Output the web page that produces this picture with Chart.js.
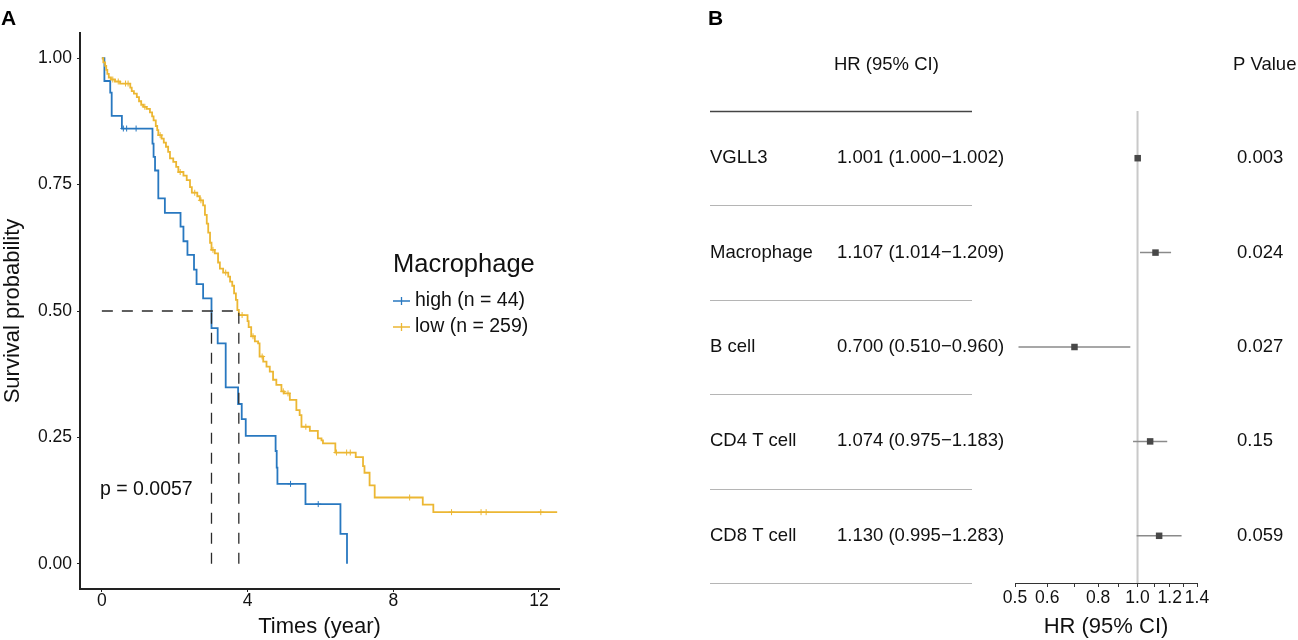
<!DOCTYPE html>
<html>
<head>
<meta charset="utf-8">
<script src="https://cdn.jsdelivr.net/npm/chart.js@4.4.1/dist/chart.umd.min.js"></script>
<style>
  html, body { margin: 0; padding: 0; background: #fff; }
  #wrap { position: relative; width: 1298px; height: 640px; overflow: hidden; }
  canvas { position: absolute; top: 0; }
  #km { left: 0; }
  #forest { left: 700px; }
  .panel { position: absolute; top: 7px; font: bold 21px "Liberation Sans", Arial, sans-serif; line-height: 1; color: #000; }
</style>
</head>
<body>
<div id="wrap">
  <canvas id="km" width="600" height="640"></canvas>
  <canvas id="forest" width="598" height="640"></canvas>
  <div class="panel" style="left:1px">A</div>
  <div class="panel" style="left:708px">B</div>
</div>
<script>
// Panel A: Kaplan-Meier, time (year) and survival after each event
const highTime = [0, 0.07, 0.23, 0.27, 0.55, 1.39, 1.42, 1.46, 1.55, 1.73, 2.16, 2.24, 2.35, 2.53, 2.60,
    2.78, 3.01, 3.18, 3.40, 3.74, 3.84, 3.95, 4.77, 4.80, 4.82, 5.59, 6.55, 6.73];
const highSurv = [1, 0.955, 0.932, 0.886, 0.861, 0.831, 0.805, 0.778, 0.723, 0.694, 0.667, 0.638, 0.611, 0.582, 0.553,
    0.525, 0.466, 0.436, 0.349, 0.316, 0.286, 0.253, 0.223, 0.190, 0.158, 0.118, 0.059, 0];
const highCensor = [0.59, 0.68, 0.94, 5.18, 5.94];

const lowTime = [0, 0.04, 0.09, 0.12, 0.15, 0.19, 0.25, 0.36, 0.50, 0.78,
    0.82, 0.88, 0.96, 1.02, 1.08, 1.14, 1.23, 1.32, 1.38, 1.42,
    1.48, 1.52, 1.55, 1.64, 1.70, 1.76, 1.82, 1.87, 1.96, 2.04,
    2.10, 2.24, 2.33, 2.42, 2.47, 2.62, 2.69, 2.78, 2.83, 2.88,
    2.92, 2.97, 3.01, 3.10, 3.19, 3.24, 3.33, 3.47, 3.52, 3.58,
    3.63, 3.68, 3.72, 3.76, 4.00, 4.03, 4.10, 4.20, 4.29, 4.33,
    4.43, 4.52, 4.61, 4.70, 4.79, 4.93, 5.00, 5.16, 5.34, 5.43,
    5.48, 5.71, 5.93, 6.03, 6.07, 6.41, 6.97, 7.17, 7.21, 7.35,
    7.49, 8.81, 9.10, 12.50];
const lowSurv = [1, 0.992, 0.985, 0.977, 0.969, 0.962, 0.958, 0.954, 0.950, 0.942,
    0.935, 0.930, 0.923, 0.915, 0.908, 0.904, 0.900, 0.893, 0.885, 0.877,
    0.866, 0.858, 0.848, 0.841, 0.833, 0.825, 0.815, 0.802, 0.795, 0.785,
    0.775, 0.768, 0.759, 0.745, 0.734, 0.727, 0.719, 0.709, 0.690, 0.673,
    0.655, 0.635, 0.621, 0.614, 0.596, 0.584, 0.576, 0.568, 0.558, 0.550,
    0.535, 0.522, 0.502, 0.492, 0.480, 0.468, 0.450, 0.440, 0.436, 0.410,
    0.400, 0.390, 0.380, 0.364, 0.354, 0.341, 0.337, 0.324, 0.304, 0.294,
    0.271, 0.263, 0.248, 0.244, 0.238, 0.220, 0.211, 0.193, 0.180, 0.155,
    0.131, 0.117, 0.102, 0.102];
const lowCensor = [0.30, 0.45, 0.65, 0.72, 1.18, 1.60, 2.15, 2.55, 2.72, 3.05, 3.40, 3.85, 4.15, 4.40,
    4.98, 5.11, 5.60, 6.44, 6.72, 6.82, 8.45, 9.60, 10.41, 10.55, 12.05];

const medianTimes = [3.01, 3.76];
const groupLabels = ['high (n = 44)', 'low (n = 259)'];
const groupColors = ['#2878c0', '#ecb733'];
const legendTitle = 'Macrophage';
const pText = 'p = 0.0057';
const timeTicks = [0, 4, 8, 12];
const survTicks = [0, 0.25, 0.5, 0.75, 1];

// Panel B: forest plot
const rowNames = ['VGLL3', 'Macrophage', 'B cell', 'CD4 T cell', 'CD8 T cell'];
const hr = [1.001, 1.107, 0.700, 1.074, 1.130];
const ciLow = [1.000, 1.014, 0.510, 0.975, 0.995];
const ciHigh = [1.002, 1.209, 0.960, 1.183, 1.283];
const pValues = ['0.003', '0.024', '0.027', '0.15', '0.059'];
const hrTicks = [0.5, 0.6, 0.7, 0.8, 0.9, 1.0, 1.1, 1.2, 1.3, 1.4];
const hrTickLabels = [0.5, 0.6, 0.8, 1.0, 1.2, 1.4];

const FONT = '"Liberation Sans", Arial, sans-serif';
Chart.defaults.font.family = FONT;
Chart.defaults.color = '#111';

function survAt(times, surv, t) {
    let s = surv[0];
    times.forEach((tt, i) => { if (tt <= t) s = surv[i]; });
    return s;
}
const toPoints = (xs, ys) => xs.map((x, i) => ({ x: x, y: ys[i] }));

// Legend + p value
const kmLegend = {
    id: 'kmLegend',
    afterDraw(chart) {
        const ctx = chart.ctx;
        ctx.save();
        ctx.fillStyle = '#111';
        ctx.textBaseline = 'middle';
        ctx.font = '25.5px ' + FONT;
        ctx.fillText(legendTitle, 393, 265);
        ctx.font = '19.5px ' + FONT;
        groupLabels.forEach((label, i) => {
            const py = 301 + i * 26;
            ctx.strokeStyle = groupColors[i];
            ctx.lineWidth = 1.3;
            ctx.beginPath();
            ctx.moveTo(393, py); ctx.lineTo(410, py);
            ctx.moveTo(401.5, py - 4); ctx.lineTo(401.5, py + 4);
            ctx.stroke();
            ctx.fillText(label, 415, py);
        });
        ctx.fillText(pText, 100, 490);
        ctx.restore();
    }
};

const dashed = {
    showLine: true, borderColor: '#2b2b2b', borderWidth: 1.3, borderDash: [11, 9], pointRadius: 0
};
const maxMedian = Math.max(...medianTimes);

new Chart(document.getElementById('km'), {
    type: 'scatter',
    data: {
        datasets: [
            { ...dashed, data: [{ x: 0, y: 0.5 }, { x: maxMedian, y: 0.5 }] },
            ...medianTimes.map(t => ({ ...dashed, data: [{ x: t, y: 0 }, { x: t, y: 0.5 }] })),
            {
                data: lowCensor.map(t => ({ x: t, y: survAt(lowTime, lowSurv, t) })),
                pointStyle: 'cross', pointRadius: 3, borderColor: groupColors[1], borderWidth: 1
            },
            {
                data: highCensor.map(t => ({ x: t, y: survAt(highTime, highSurv, t) })),
                pointStyle: 'cross', pointRadius: 3, borderColor: groupColors[0], borderWidth: 1
            },
            {
                data: toPoints(lowTime, lowSurv), showLine: true, stepped: true,
                borderColor: groupColors[1], borderWidth: 1.8, pointRadius: 0
            },
            {
                data: toPoints(highTime, highSurv), showLine: true, stepped: true,
                borderColor: groupColors[0], borderWidth: 1.8, pointRadius: 0
            }
        ]
    },
    options: {
        responsive: false,
        animation: false,
        events: [],
        layout: { padding: { top: 33, right: 41, left: 0, bottom: 0 } },
        plugins: { legend: { display: false }, tooltip: { enabled: false } },
        scales: {
            x: {
                type: 'linear', min: -0.6, max: 12.55,
                afterBuildTicks: s => { s.ticks = timeTicks.map(v => ({ value: v })); },
                afterFit: s => { s.height = 51; },
                grid: { display: true, drawOnChartArea: false, tickLength: 3, tickColor: '#222' },
                border: { color: '#222', width: 2 },
                ticks: { font: { size: 17.5 }, color: '#111', padding: -1, maxRotation: 0, autoSkip: false },
                title: { display: true, text: 'Times (year)', font: { size: 22 }, color: '#111', padding: 0 }
            },
            y: {
                type: 'linear', min: -0.05, max: 1.05,
                afterBuildTicks: s => { s.ticks = survTicks.map(v => ({ value: v })); },
                afterFit: s => { s.width = 80; },
                grid: { display: true, drawOnChartArea: false, tickLength: 3, tickColor: '#222' },
                border: { color: '#222', width: 2 },
                ticks: { font: { size: 17.5 }, color: '#111', padding: 5, callback: v => v.toFixed(2) },
                title: { display: true, text: 'Survival probability', font: { size: 22 }, color: '#111', padding: 0 }
            }
        }
    },
    plugins: [kmLegend]
});

// Forest plot text columns and separators
const hrText = hr.map((v, i) => `${v.toFixed(3)} (${ciLow[i].toFixed(3)}\u2212${ciHigh[i].toFixed(3)})`);

const forestText = {
    id: 'forestText',
    afterDraw(chart) {
        const { ctx, scales: { y } } = chart;
        ctx.save();
        for (let i = 0; i <= rowNames.length; i++) {
            const py = Math.round(y.getPixelForValue(i + 0.5)) + 0.5;
            ctx.beginPath();
            ctx.strokeStyle = i === 0 ? '#444' : '#b5b5b5';
            ctx.lineWidth = i === 0 ? 1.5 : 1;
            ctx.moveTo(10, py);
            ctx.lineTo(272, py);
            ctx.stroke();
        }
        ctx.font = '18.5px ' + FONT;
        ctx.fillStyle = '#111';
        ctx.textBaseline = 'middle';
        const hy = y.getPixelForValue(0) + 1;
        ctx.fillText('HR (95% CI)', 134, hy);
        ctx.fillText('P Value', 533, hy);
        rowNames.forEach((name, i) => {
            const py = y.getPixelForValue(i + 1);
            ctx.fillText(name, 10, py);
            ctx.fillText(hrText[i], 137, py);
            ctx.fillText(pValues[i], 537, py);
        });
        ctx.restore();
    }
};

new Chart(document.getElementById('forest'), {
    type: 'scatter',
    data: {
        datasets: [
            {
                data: toPoints(hr, rowNames.map((n, i) => i + 1)),
                pointStyle: 'rect', pointRadius: 4.6, backgroundColor: '#484848', borderColor: '#484848', borderWidth: 0
            },
            ...rowNames.map((n, i) => ({
                data: [{ x: ciLow[i], y: i + 1 }, { x: ciHigh[i], y: i + 1 }],
                showLine: true, borderColor: '#8a8a8a', borderWidth: 1.5, pointRadius: 0
            })),
            {
                data: [{ x: 1, y: 0.5 }, { x: 1, y: rowNames.length + 0.5 }],
                showLine: true, borderColor: '#c9c9c9', borderWidth: 2, pointRadius: 0
            }
        ]
    },
    options: {
        responsive: false,
        animation: false,
        events: [],
        layout: { padding: { top: 111, right: 101, left: 315, bottom: 0 } },
        plugins: { legend: { display: false }, tooltip: { enabled: false } },
        scales: {
            x: {
                type: 'logarithmic', min: 0.5, max: 1.4,
                afterBuildTicks: s => { s.ticks = hrTicks.map(v => ({ value: v })); },
                afterFit: s => { s.height = 57; },
                grid: { display: true, drawOnChartArea: false, tickLength: 4, tickColor: '#333' },
                border: { color: '#333', width: 1 },
                ticks: {
                    font: { size: 17.5 }, color: '#111', padding: 1, maxRotation: 0, minRotation: 0, autoSkip: false,
                    callback: v => hrTickLabels.some(l => Math.abs(l - v) < 1e-9) ? v.toFixed(1) : ''
                },
                title: { display: true, text: 'HR (95% CI)', font: { size: 22 }, color: '#111', padding: 0 }
            },
            y: {
                type: 'linear', min: 0.5, max: rowNames.length + 0.5, reverse: true, display: false
            }
        }
    },
    plugins: [forestText]
});
</script>
</body>
</html>
